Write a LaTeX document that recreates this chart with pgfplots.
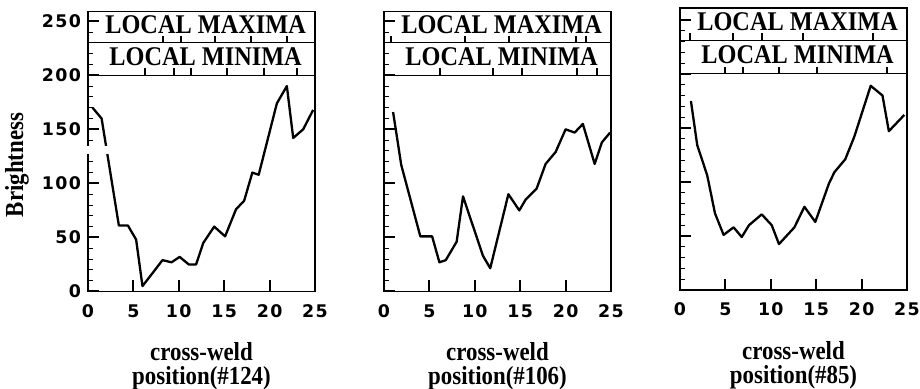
\documentclass[border=0pt]{standalone}
\usepackage{fontspec}
\setmainfont{Liberation Serif}
\newfontfamily\bandfont{Liberation Serif}[FakeStretch=0.9]
\newfontfamily\labfont{Liberation Serif}[FakeStretch=0.88]
\newfontfamily\tickfont{DejaVu Sans}[LetterSpace=8]
\usepackage{pgfplots}
\pgfplotsset{compat=1.18}
\tikzset{bandtext/.style={anchor=base, font=\bandfont\bfseries\fontsize{13.5}{13.5}\selectfont}}
\pgfplotsset{
 panel/.style={
  scale only axis, width=113.5pt, height=140pt,
  xmin=0, xmax=25, ymin=0, ymax=259,
  axis line style={line width=0.8pt},
  xtick={0,5,...,25}, ytick={0,50,...,250}, minor y tick num=4,
  tick align=inside, major tick length=5.5pt, minor tick length=2.5pt,
  every major tick/.append style={line width=1pt, black},
  every minor tick/.append style={line width=0.5pt, black},
  tick label style={font=\tickfont\bfseries\fontsize{8.7}{8.7}\selectfont},
  xticklabel style={yshift=-3pt},
  /pgf/number format/assume math mode=true,
  xtick pos=bottom, ytick pos=left,
  clip=false, unbounded coords=jump,
  xlabel style={align=center, font=\labfont\bfseries\fontsize{13}{12}\selectfont,
    at={(axis description cs:0.5,0)}, anchor=north, yshift=-22pt},
 },
 curve/.style={black, line width=1.15pt, line join=round, mark=none},
 bandmark/.style={black, line width=1pt, mark=none},
}
\begin{document}
\begin{tikzpicture}
\useasboundingbox (-44pt,-48.75pt) rectangle (416pt,145.75pt);
% ---------------- panel 1 ----------------
\begin{axis}[panel, at={(0pt,0pt)},
  ylabel={Brightness},
  ylabel style={font=\labfont\bfseries\fontsize{13}{12}\selectfont, at={(axis description cs:-0.313,0.452)}, anchor=center},
  xlabel={cross-weld\\position(\#124)}]
\draw[line width=0.6pt] (axis cs:0,200) -- (axis cs:25,200);
\draw[line width=0.6pt] (axis cs:0,230) -- (axis cs:25,230);
\node[bandtext] at (axis cs:12.95,239) {LOCAL MAXIMA};
\node[bandtext] at (axis cs:12.95,209.5) {LOCAL MINIMA};
\addplot[curve] coordinates {(0.5,170)(1.5,160)(3.4,61)(4.4,61)(5.3,48)(6.0,5)(7.2,18)(8.2,29)(9.2,27)(10.1,32)(11.1,25)(11.9,25)(12.7,45)(13.9,60)(15.1,51)(16.3,76)(17.2,84)(18.1,110)(18.8,108)(20.8,174)(21.9,190)(22.6,142)(23.7,150)(24.8,168)};
\addplot[bandmark] coordinates {(8.3,230)(8.3,236.5) (nan,nan) (10.2,230)(10.2,236.5) (nan,nan) (14.0,230)(14.0,236.5) (nan,nan) (18.0,230)(18.0,236.5) (nan,nan) (21.9,230)(21.9,236.5)};
\addplot[bandmark] coordinates {(6.3,200)(6.3,206.5) (nan,nan) (9.45,200)(9.45,206.5) (nan,nan) (11.3,200)(11.3,206.5) (nan,nan) (15.3,200)(15.3,206.5) (nan,nan) (19.35,200)(19.35,206.5) (nan,nan) (23.0,200)(23.0,206.5)};
\fill[white] (axis cs:-0.3,127.2) rectangle (axis cs:2.6,134.5);
\end{axis}
% ---------------- panel 2 ----------------
\begin{axis}[panel, at={(148pt,0pt)}, yticklabels={},
  xlabel={cross-weld\\position(\#106)}]
\draw[line width=0.6pt] (axis cs:0,200) -- (axis cs:25,200);
\draw[line width=0.6pt] (axis cs:0,230) -- (axis cs:25,230);
\node[bandtext] at (axis cs:12.95,239) {LOCAL MAXIMA};
\node[bandtext] at (axis cs:12.95,209.5) {LOCAL MINIMA};
\addplot[curve] coordinates {(1.0,166)(1.9,117)(4.0,51)(5.3,51)(6.1,27)(6.8,29)(8.0,46)(8.7,88)(10.9,33)(11.7,21.5)(13.7,90)(14.9,75)(15.6,85)(16.8,95)(17.8,118)(18.9,129)(20.0,150)(21.0,147)(21.9,155)(23.2,118)(24.0,138)(24.9,147)};
\addplot[bandmark] coordinates {(0.8,230)(0.8,236.5) (nan,nan) (8.9,230)(8.9,236.5) (nan,nan) (13.8,230)(13.8,236.5) (nan,nan) (21.1,230)(21.1,236.5) (nan,nan) (22.2,230)(22.2,236.5)};
\addplot[bandmark] coordinates {(6.2,200)(6.2,206.5) (nan,nan) (11.95,200)(11.95,206.5) (nan,nan) (15.2,200)(15.2,206.5) (nan,nan) (21.3,200)(21.3,206.5) (nan,nan) (23.5,200)(23.5,206.5)};
\end{axis}
% ---------------- panel 3 ----------------
\begin{axis}[panel, at={(296pt,0.75pt)}, height=141pt, ymax=261, yticklabels={},
  xlabel={cross-weld\\position(\#85)}]
\draw[line width=0.6pt] (axis cs:0,200) -- (axis cs:25,200);
\draw[line width=0.6pt] (axis cs:0,231) -- (axis cs:25,231);
\node[bandtext] at (axis cs:12.95,240) {LOCAL MAXIMA};
\node[bandtext] at (axis cs:12.95,209.5) {LOCAL MINIMA};
\addplot[curve] coordinates {(1.2,175)(1.9,134)(3.0,106)(3.85,71)(4.8,51)(5.9,58)(6.8,49)(7.6,60)(9.0,70)(10.1,60)(10.9,42.5)(12.6,58)(13.7,77)(14.9,63)(16.4,98.5)(17.0,109)(18.2,121)(19.2,142)(21.0,189)(22.3,180)(23.0,147)(24.7,162)};
\addplot[bandmark] coordinates {(1.1,231)(1.1,237.5) (nan,nan) (5.85,231)(5.85,237.5) (nan,nan) (9.0,231)(9.0,237.5) (nan,nan) (13.6,231)(13.6,237.5) (nan,nan) (21.3,231)(21.3,237.5)};
\addplot[bandmark] coordinates {(5.0,200)(5.0,206.5) (nan,nan) (6.9,200)(6.9,206.5) (nan,nan) (10.9,200)(10.9,206.5) (nan,nan) (15.1,200)(15.1,206.5) (nan,nan) (22.8,200)(22.8,206.5)};
\end{axis}
\end{tikzpicture}
\end{document}
